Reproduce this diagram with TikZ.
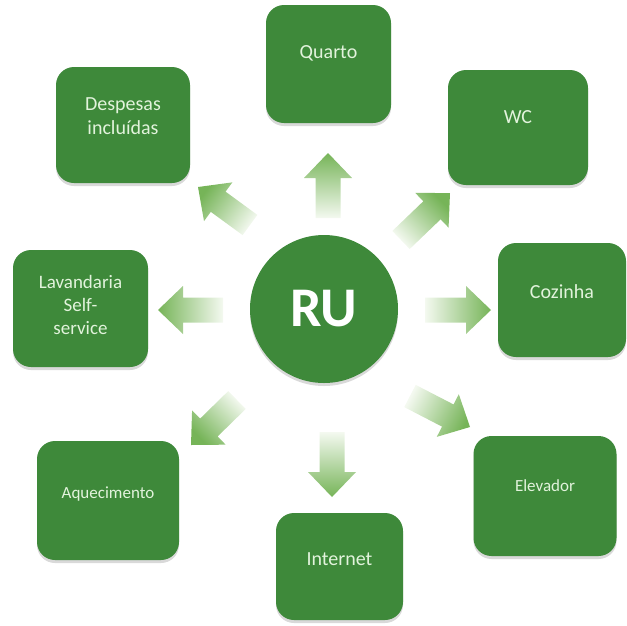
\documentclass[tikz,border=0pt]{standalone}
\usepackage{fontspec}
\setmainfont{Carlito}
\usetikzlibrary{calc,shadows}
\definecolor{boxgreen}{RGB}{62,137,58}
\definecolor{headgreen}{RGB}{118,180,88}
\definecolor{tailgreen}{RGB}{244,249,240}
\definecolor{textgreen}{RGB}{226,243,220}
\tikzset{every shadow/.style={fill=black!60,opacity=0.25,shadow xshift=0pt,shadow yshift=-3pt}}
\tikzset{
  box/.style n args={3}{rectangle,rounded corners=18pt,fill=boxgreen,drop shadow,
    minimum width=#1pt,minimum height=#2pt,text depth=#3pt,inner sep=0pt,
    text=textgreen,align=center,font=\fontsize{20}{24}\selectfont},
  hub/.style={circle,fill=boxgreen,drop shadow,minimum size=148pt,inner sep=0pt,
    text=white,font=\bfseries\fontsize{56}{60}\selectfont},
  flow/.style={top color=headgreen,bottom color=tailgreen,draw=none}
}
% block arrow: tail, tip, shading angle
\newcommand{\flowarrow}[3]{%
  \coordinate (hb) at ($(#2)!25pt!(#1)$);
  \path[flow,shading angle=#3]
    ($(#1)!12.5pt!90:(#2)$) -- ($(hb)!12.5pt!90:(#2)$) -- ($(hb)!24pt!90:(#2)$)
    -- (#2)
    -- ($(hb)!24pt!-90:(#2)$) -- ($(hb)!12.5pt!-90:(#2)$) -- ($(#1)!12.5pt!-90:(#2)$)
    -- cycle;}

\begin{document}
\begin{tikzpicture}[x=1pt,y=-1pt]
\useasboundingbox (0,0) rectangle (627,625);
% \draw[help lines,step=50] (0,0) grid (627,625);
\node (ru) [hub] at (324,309) {RU};
%
\node (quarto) [box={125}{118}{24}] at (328.5,64) {Quarto};
\node (wc) [box={140}{115}{21}] at (518,127.5) {WC};
\node (cozinha) [box={128}{114}{16}] at (562,300) {Cozinha};
\node (elevador) [box={143}{120}{20},font=\fontsize{17}{20}\selectfont] at (545,496) {Elevador};
\node (internet) [box={127}{107}{14}] at (339.5,566.5) {Internet};
\node (aquecimento) [box={142}{119}{16},font=\fontsize{17}{20}\selectfont] at (108,500.5) {Aquecimento};
\node (lavandaria) [box={135}{117}{8},font=\fontsize{19}{23}\selectfont] at (80.5,308.5) {Lavandaria\\Self-\\service};
\node (despesas) [box={134}{116}{18}] at (123,125) {Despesas\\incluídas};

% arrows
\coordinate (s1) at (328,218); \coordinate (e1) at (328,153);
\coordinate (s2) at (401,240); \coordinate (e2) at (450,193);
\coordinate (s3) at (425,310); \coordinate (e3) at (491,310);
\coordinate (s4) at (410,396); \coordinate (e4) at (470,427);
\coordinate (s5) at (332,432); \coordinate (e5) at (332,497);
\coordinate (s6) at (237,400); \coordinate (e6) at (191,445);
\coordinate (s7) at (223,310); \coordinate (e7) at (158,310);
\coordinate (s8) at (250,225); \coordinate (e8) at (198,187);
%
\flowarrow{s1}{e1}{0}
\flowarrow{s2}{e2}{-46}
\flowarrow{s3}{e3}{-90}
\flowarrow{s4}{e4}{-117}
\flowarrow{s5}{e5}{180}
\flowarrow{s6}{e6}{134}
\flowarrow{s7}{e7}{90}
\flowarrow{s8}{e8}{54}
\end{tikzpicture}
\end{document}
